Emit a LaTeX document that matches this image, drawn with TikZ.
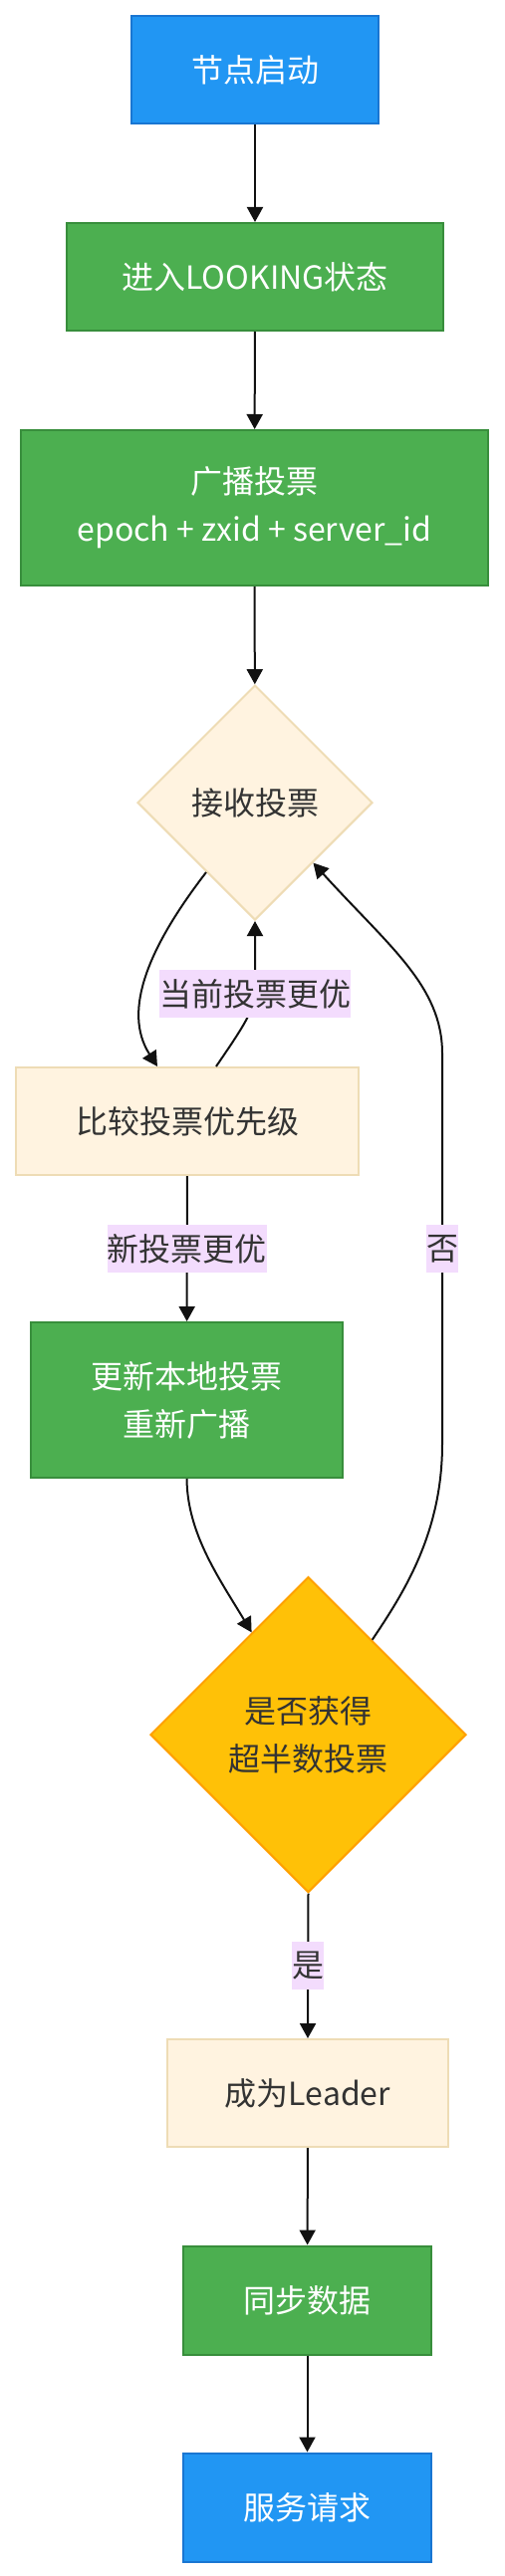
\documentclass[tikz,border=0pt]{standalone}
\usepackage{fontspec}
\setmainfont{Noto Sans CJK SC}
\usetikzlibrary{shapes.geometric,arrows.meta,calc}
\definecolor{bluef}{HTML}{2196F3}
\definecolor{blued}{HTML}{1976D2}
\definecolor{greenf}{HTML}{4CAF50}
\definecolor{greend}{HTML}{388E3C}
\definecolor{creamf}{HTML}{FFF3E0}
\definecolor{creamd}{HTML}{EEDCB5}
\definecolor{amberf}{HTML}{FFC107}
\definecolor{amberd}{HTML}{FFA000}
\definecolor{lblbg}{HTML}{F3DCFD}
\definecolor{txt}{HTML}{333333}
\definecolor{linec}{HTML}{111111}
\begin{document}
\begin{tikzpicture}[x=1pt,y=-1pt,
  base/.style={draw, line width=2pt, inner sep=0pt, align=center, font=\fontsize{32}{48}\selectfont},
  bluebox/.style={base, fill=bluef, draw=blued, text=white},
  greenbox/.style={base, fill=greenf, draw=greend, text=white},
  creambox/.style={base, fill=creamf, draw=creamd, text=txt},
  creamdia/.style={base, shape=diamond, fill=creamf, draw=creamd, text=txt},
  amberdia/.style={base, shape=diamond, fill=amberf, draw=amberd, text=txt},
  arr/.style={draw=linec, line width=2pt, -{Triangle[length=15pt,width=16pt]}},
  lbl/.style={fill=lblbg, text=txt, inner sep=0pt, minimum height=48pt, font=\fontsize{32}{48}\selectfont}
]
\useasboundingbox (0,0) rectangle (506,2587);

\node[bluebox, minimum width=248pt, minimum height=108pt] (n1) at (256,70) {节点启动};
\node[greenbox, minimum width=378pt, minimum height=108pt] (n2) at (256,278) {进入LOOKING状态};
\node[greenbox, minimum width=469pt, minimum height=156pt] (n3) at (255.5,510) {广播投票\\epoch + zxid + server\_id};
\node[creamdia, minimum width=236pt, minimum height=236pt] (d1) at (256,806) {接收投票};
\node[creambox, minimum width=344pt, minimum height=108pt] (cmp) at (188,1126) {比较投票优先级};
\node[greenbox, minimum width=313pt, minimum height=156pt] (upd) at (187.5,1406) {更新本地投票\\重新广播};
\node[amberdia, minimum width=317pt, minimum height=317pt] (d2) at (309.5,1742) {是否获得\\超半数投票};
\node[creambox, minimum width=282pt, minimum height=108pt] (leader) at (309,2102) {成为Leader};
\node[greenbox, minimum width=249pt, minimum height=109pt] (sync) at (308.5,2310) {同步数据};
\node[bluebox, minimum width=249pt, minimum height=109pt] (serve) at (308.5,2518) {服务请求};

\draw[arr] (n1) -- (n2);
\draw[arr] (n2) -- (n3);
\draw[arr] (n3) -- (d1);
\draw[arr] (d1.235) .. controls (150,950) and (122,1015) .. ($(cmp.north)+(-30,0)$);
\draw[arr] ($(cmp.north)+(29,0)$) .. controls (238,1040) and (256,1015) .. (256,998)
   node[lbl] {当前投票更优} -- (d1.south);
\draw[arr] (cmp) -- node[lbl] {新投票更优} (upd);
\draw[arr] (upd.south) .. controls (188,1540) and (220,1585) .. (d2.119);
\draw[arr] (d2.56) .. controls (405,1600) and (444,1540) .. (444,1450)
   -- node[lbl] {否} (444,1058) .. controls (444,990) and (390,950) .. (d1.314);
\draw[arr] (d2.south) -- node[lbl] {是} (leader.north);
\draw[arr] (leader) -- (sync);
\draw[arr] (sync) -- (serve);
\end{tikzpicture}
\end{document}
